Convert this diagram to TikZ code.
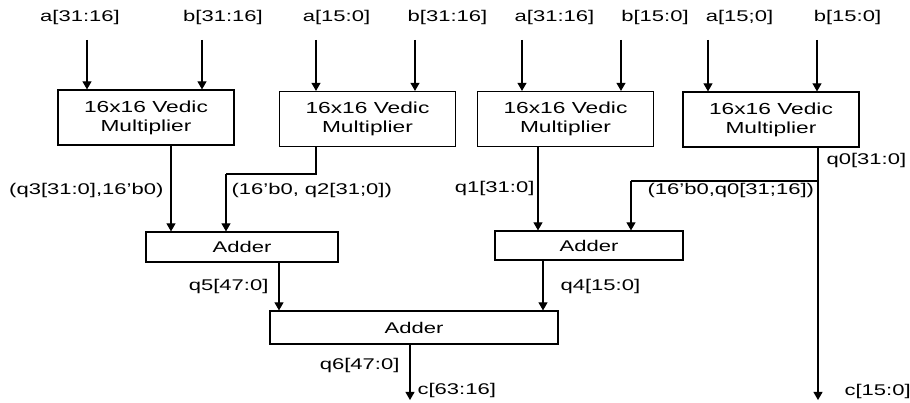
\documentclass[tikz,border=0pt]{standalone}
\usepackage{fontspec}
\setmainfont{Liberation Sans}[FakeStretch=1.42]
\usepackage{tikz}
\usetikzlibrary{arrows}

\begin{document}
\begin{tikzpicture}[->,>=triangle 60,x=1pt,y=-1pt,line width=1.2pt,
  font=\fontsize{15.5}{19}\selectfont]
\tikzstyle{vedic}=[draw,rectangle,minimum width=176pt,minimum height=55pt,
  align=center,inner sep=0pt,font=\fontsize{16}{19}\selectfont]
\tikzstyle{adder}=[draw,rectangle,inner sep=0pt]
\tikzstyle{bus}=[inner sep=1pt]
\useasboundingbox (0,0) rectangle (910,403);

% multipliers
\node[vedic] (m3) at (146,117.5) {16x16 Vedic\\Multiplier};
\node[vedic] (m2) at (367.5,119) {16x16 Vedic\\Multiplier};
\node[vedic] (m1) at (565.5,119) {16x16 Vedic\\Multiplier};
\node[vedic] (m0) at (771,119.5) {16x16 Vedic\\Multiplier};

% adders
\node[adder,minimum width=192pt,minimum height=30pt] (add1) at (242,247) {Adder};
\node[adder,minimum width=188pt,minimum height=29pt] (add2) at (589,245.5) {Adder};
\node[adder,minimum width=288pt,minimum height=33pt] (add3) at (414,327.5) {Adder};

% inputs
\node[bus] (a3) at (80,17) {a[31:16]};
\node[bus] (b3) at (223,17) {b[31:16]};
\node[bus] (a2) at (336.5,17) {a[15:0]};
\node[bus] (b2) at (447.5,17) {b[31:16]};
\node[bus] (a1) at (554.5,17) {a[31:16]};
\node[bus] (b1) at (655,17) {b[15:0]};
\node[bus] (a0) at (739.5,17) {a[15;0]};
\node[bus] (b0) at (847.5,17) {b[15:0]};

\coordinate (ia3) at (87,40);
\coordinate (ib3) at (202,40);
\coordinate (ia2) at (316,40);
\coordinate (ib2) at (415,40);
\coordinate (ia1) at (522,40);
\coordinate (ib1) at (621,40);
\coordinate (ia0) at (708,40);
\coordinate (ib0) at (817,40);
\foreach \i/\m in {ia3/m3,ib3/m3,ia2/m2,ib2/m2,ia1/m1,ib1/m1,ia0/m0,ib0/m0}
  \draw (\i) -- (\i |- \m.north);

% products
\coordinate (o3) at (171,0);
\coordinate (o2) at (316,174);
\coordinate (j2) at (226,174);
\coordinate (o1) at (538,0);
\coordinate (o0) at (818,181);
\coordinate (j0) at (631,181);
\coordinate (c0) at (818,400);
\draw (m3.south -| o3) -- (add1.north -| o3);
\draw[-] (m2.south -| o2) -- (o2) -- (j2);
\draw (j2) -- (add1.north -| j2);
\draw (m1.south -| o1) -- (add2.north -| o1);
\draw (m0.south -| c0) -- (c0);
\draw[-] (o0) -- (j0);
\draw (j0) -- (add2.north -| j0);

\node[bus,anchor=east] (q3) at (165,190) {(q3[31:0],16'b0)};
\node[bus,anchor=west] (q2) at (230,190) {(16'b0, q2[31;0])};
\node[bus,anchor=east] (q1) at (536,188) {q1[31:0]};
\node[bus,anchor=west] (q0) at (825,160) {q0[31:0]};
\node[bus,anchor=west] (q0h) at (646,190) {(16'b0,q0[31;16])};

% sums
\coordinate (s5) at (279,0);
\coordinate (s4) at (543,0);
\coordinate (s6) at (410,400);
\draw (add1.south -| s5) -- (add3.north -| s5);
\draw (add2.south -| s4) -- (add3.north -| s4);
\draw (add3.south -| s6) -- (s6);

\node[bus,anchor=east] (q5) at (270,286) {q5[47:0]};
\node[bus,anchor=west] (q4) at (559,286) {q4[15:0]};
\node[bus,anchor=east] (q6) at (401,365) {q6[47:0]};
\node[bus,anchor=west] (chi) at (416,390) {c[63:16]};
\node[bus,anchor=west] (clo) at (843,391) {c[15:0]};
\end{tikzpicture}
\end{document}
